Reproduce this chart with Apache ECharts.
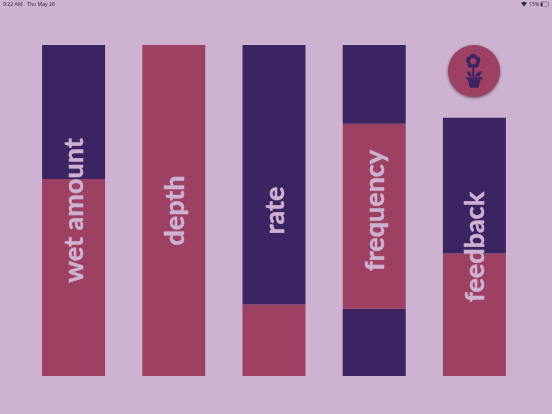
<!DOCTYPE html>
<html>
<head>
<meta charset="utf-8">
<style>
html, body { margin: 0; padding: 0; background: #cdb3d1; }
#main { width: 552px; height: 414px; }
</style>
<script src="https://cdn.jsdelivr.net/npm/echarts@6/dist/echarts.min.js"></script>
</head>
<body>
<div id="main"></div>
<script>
var categories = ['wet amount', 'depth', 'rate', 'frequency', 'feedback'];
// stacked bottom to top, percent of the full slider height
var lowerPurple = [0, 0, 0, 20.3, 0];
var redPart = [59.5, 100, 21.6, 55.9, 37.0];
var upperPurple = [40.5, 0, 78.4, 23.8, 41.0];
var totals = [100, 100, 100, 100, 78];

var bgColor = '#cdb3d1';
var purple = '#3c2463';
var red = '#9e4061';

var myChart = echarts.init(document.getElementById('main'), null, {width: 552, height: 414});

function stackSeries(name, data, color) {
    return {
        name: name,
        type: 'bar',
        stack: 'slider',
        barWidth: 63,
        silent: true,
        itemStyle: {color: color},
        data: data
    };
}

// five petals around the head of the flower
function petals(cx, cy, dist, r) {
    var list = [];
    for (var i = 0; i < 5; i++) {
        var a = -Math.PI / 2 + i * 2 * Math.PI / 5;
        list.push({type: 'circle', shape: {cx: cx + dist * Math.cos(a), cy: cy + dist * Math.sin(a), r: r}, style: {fill: purple}});
    }
    return list;
}

var statusColor = '#2e2436';
var statusFont = '5.2px "Open Sans"';

var option = {
    animation: false,
    backgroundColor: bgColor,
    grid: {left: 23.5, right: 27.5, top: 45, bottom: 38},
    xAxis: {type: 'category', data: categories, show: false},
    yAxis: {type: 'value', min: 0, max: 100, show: false},
    series: [
        stackSeries('lower', lowerPurple, purple),
        stackSeries('level', redPart, red),
        stackSeries('upper', upperPurple, purple),
        {
            // clear bar over the stack, only here to carry the label
            name: 'label',
            type: 'bar',
            barWidth: 63,
            barGap: '-100%',
            z: 5,
            itemStyle: {color: 'transparent'},
            label: {
                show: true,
                position: 'inside',
                rotate: 90,
                offset: [0, 1],
                formatter: '{b}',
                color: bgColor,
                fontFamily: 'Lato',
                fontWeight: 'bold',
                fontSize: 27,
                textBorderColor: bgColor,
                textBorderWidth: 0.5
            },
            data: totals
        }
    ],
    graphic: [
        {type: 'text', left: 3, top: 2, style: {text: '9:22 AM', fill: statusColor, font: statusFont}},
        {type: 'text', left: 27, top: 2, style: {text: 'Thu May 28', fill: statusColor, font: statusFont}},
        {type: 'text', left: 529, top: 2, style: {text: '15%', fill: statusColor, font: statusFont}},
        {type: 'polygon', shape: {points: [[521, 2.8], [524, 1.8], [527, 2.8], [524, 6.4]]}, style: {fill: statusColor}},
        {type: 'rect', shape: {x: 540.5, y: 2, width: 8, height: 4.4, r: 1}, style: {fill: 'none', stroke: '#6a5a70', lineWidth: 0.5}},
        {type: 'rect', shape: {x: 541, y: 2.5, width: 1.5, height: 3.4}, style: {fill: statusColor}},
        {type: 'circle', shape: {cx: 474, cy: 71, r: 26}, style: {fill: red, shadowBlur: 3, shadowOffsetY: 1, shadowColor: 'rgba(40,20,50,0.6)'}}
    ].concat(petals(473.2, 61.2, 3.9, 3.5)).concat([
        {type: 'circle', shape: {cx: 473.2, cy: 61.2, r: 3.1}, style: {fill: red}},
        // stem, leaves, pot
        {type: 'rect', shape: {x: 472.3, y: 67, width: 2, height: 10.5}, style: {fill: purple}},
        {type: 'polygon', shape: {points: [[466.5, 71.5], [470, 71.5], [472.3, 76.5], [469, 76.5]]}, style: {fill: purple}},
        {type: 'polygon', shape: {points: [[482, 71.5], [478.5, 71.5], [474.3, 76.5], [479.5, 76.5]]}, style: {fill: purple}},
        {type: 'rect', shape: {x: 466, y: 77.3, width: 16.4, height: 2}, style: {fill: purple}},
        {type: 'polygon', shape: {points: [[467.7, 79.3], [480.7, 79.3], [478.3, 87.7], [470, 87.7]]}, style: {fill: purple}}
    ])
};
myChart.setOption(option);
</script>
</body>
</html>
